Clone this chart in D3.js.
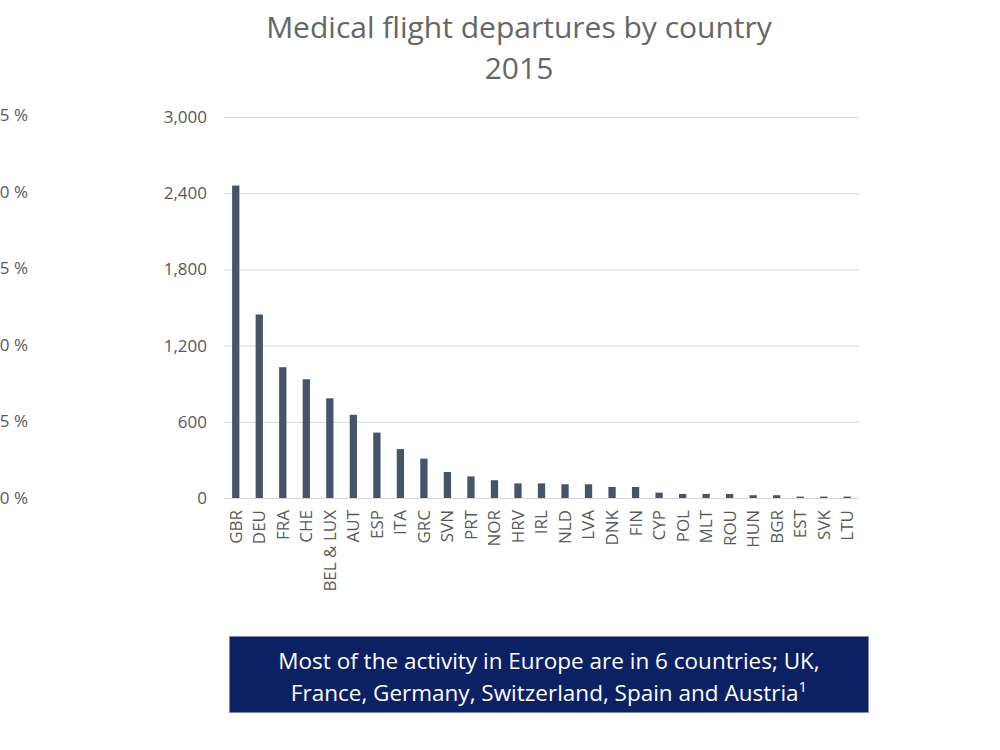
<!DOCTYPE html>
<html>
<head>
<meta charset="utf-8">
<script src="https://cdn.jsdelivr.net/npm/d3@7"></script>
<style>
  html, body { margin: 0; padding: 0; background: #fff; }
  svg { display: block; }
  text { font-family: "Open Sans", "DejaVu Sans", sans-serif; }
</style>
</head>
<body>
<svg id="chart" width="1000" height="750"></svg>
<script>
// ---- data ----
const countries = ["GBR","DEU","FRA","CHE","BEL & LUX","AUT","ESP","ITA","GRC","SVN","PRT","NOR","HRV","IRL","NLD","LVA","DNK","FIN","CYP","POL","MLT","ROU","HUN","BGR","EST","SVK","LTU"];
const departures = [2460,1445,1030,935,785,655,515,385,310,205,170,140,115,115,108,108,87,87,42,32,32,32,22,22,11,11,11];
const yTicks = [0,600,1200,1800,2400,3000];
const pctTicks = [0,5,10,15,20,25];
const titleLines = ["Medical flight departures by country","2015"];
const noteLines = ["Most of the activity in Europe are in 6 countries; UK,","France, Germany, Switzerland, Spain and Austria"];

// ---- layout ----
const svg = d3.select("#chart");
const plot = {left: 224, right: 859, top: 117, bottom: 498};

const x = d3.scaleBand().domain(countries).range([plot.left, plot.right]).paddingInner(0.69).paddingOuter(0.345);
const y = d3.scaleLinear().domain([0, 3000]).range([plot.bottom, plot.top]);
const yPct = d3.scaleLinear().domain([0, 25]).range([498, 115]);

// Title
svg.append("g").selectAll("text").data(titleLines).join("text")
  .attr("x", 519).attr("y", (d, i) => 38 + i * 41)
  .attr("text-anchor", "middle")
  .attr("font-size", 30).attr("fill", "#666666")
  .text(d => d);

// gridlines
svg.append("g").selectAll("line").data(yTicks).join("line")
  .attr("x1", plot.left).attr("x2", plot.right)
  .attr("y1", d => y(d) + 0.5).attr("y2", d => y(d) + 0.5)
  .attr("stroke", "#d9d9d9").attr("stroke-width", 1);

// left y axis
const yAxis = d3.axisLeft(y).tickValues(yTicks).tickFormat(d3.format(",")).tickSize(0).tickPadding(17);
const gy = svg.append("g").attr("transform", `translate(${plot.left},0)`).call(yAxis);
gy.select(".domain").remove();
gy.selectAll("text").attr("font-size", 17).attr("fill", "#595959").attr("font-family", "Open Sans");

// clipped percent axis at far left (cut off by the page edge, as in the reference)
const pAxis = d3.axisLeft(yPct).tickValues(pctTicks).tickFormat(d => d + " %").tickSize(0).tickPadding(0);
const gp = svg.append("g").attr("transform", "translate(28,0)").call(pAxis);
gp.select(".domain").remove();
gp.selectAll("text").attr("font-size", 17).attr("fill", "#595959").attr("font-family", "Open Sans");

// bars
svg.append("g").selectAll("rect").data(countries).join("rect")
  .attr("x", d => x(d))
  .attr("y", (d, i) => y(departures[i]))
  .attr("width", x.bandwidth())
  .attr("height", (d, i) => y(0) - y(departures[i]))
  .attr("fill", "#44546a");

// x axis labels
const xAxis = d3.axisBottom(x).tickSize(0).tickPadding(0);
const gx = svg.append("g").attr("transform", `translate(0,${plot.bottom})`).call(xAxis);
gx.select(".domain").remove();
gx.selectAll("text")
  .attr("font-size", 17).attr("fill", "#595959").attr("font-family", "Open Sans")
  .attr("text-anchor", "end")
  .attr("transform", "rotate(-90)")
  .attr("x", -12).attr("y", 0).attr("dy", "0.35em");

// note box
svg.append("rect")
  .attr("x", 229.5).attr("y", 636.5).attr("width", 639).attr("height", 76)
  .attr("fill", "#0c2163").attr("stroke", "#7f8aa8").attr("stroke-width", 1);
const note = svg.append("g");
note.selectAll("text").data(noteLines).join("text")
  .attr("x", 549).attr("y", (d, i) => 669 + i * 32)
  .attr("text-anchor", "middle")
  .attr("font-size", 22.5).attr("fill", "#ffffff")
  .each(function(d, i) {
    const t = d3.select(this);
    t.append("tspan").text(d);
    if (i === 1) t.append("tspan").attr("dy", -9).attr("font-size", 15).text("1");
  });
</script>
</body>
</html>
